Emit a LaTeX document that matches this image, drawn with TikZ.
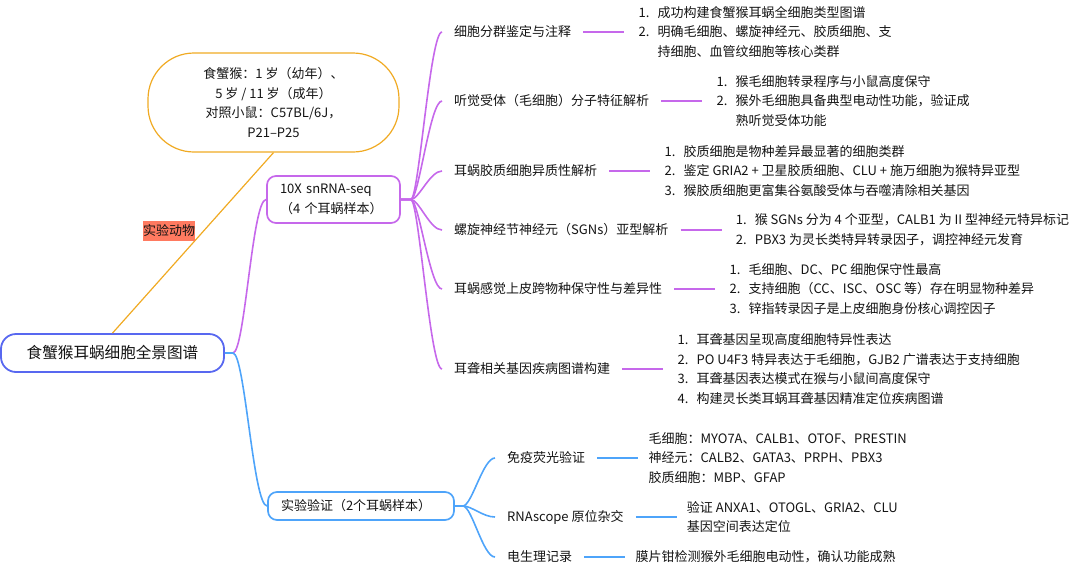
\documentclass[tikz,border=0pt]{standalone}
\usepackage{fontspec}
\usepackage{xcolor}
\setmainfont{Noto Sans CJK SC}
\definecolor{rootblue}{RGB}{88, 104, 240}
\definecolor{lineorange}{RGB}{240, 170, 35}
\definecolor{tagred}{RGB}{255, 122, 96}
\definecolor{mainpurple}{RGB}{198, 104, 235}
\definecolor{mainblue}{RGB}{78, 164, 250}
\definecolor{textblack}{RGB}{20, 20, 20}
\usetikzlibrary{positioning}
\newcommand{\itemno}[1]{\makebox[19pt][l]{#1.}}
\newcommand{\nextline}{\hspace*{19pt}}

\begin{document}
\begin{tikzpicture}[
    x=1pt, y=-1pt,
    every node/.style={text=textblack, font=\fontsize{13}{19.7}\selectfont},
    rootbox/.style={rectangle, draw=rootblue, line width=1.8pt, rounded corners=15pt, minimum width=223pt, minimum height=38pt, align=center, font=\fontsize{15.6}{19}\selectfont},
    bubble/.style={rectangle, draw=lineorange, line width=1.2pt, rounded corners=46pt, minimum width=251pt, minimum height=99pt, align=center},
    tag/.style={rectangle, fill=tagred, inner sep=0pt, minimum width=52pt, minimum height=20pt},
    branchbox/.style={rectangle, line width=1.7pt, rounded corners=9pt, inner xsep=13pt, inner ysep=0pt, align=left},
    topic/.style={anchor=west, inner xsep=12pt, inner ysep=1pt},
    detail/.style={anchor=west, inner xsep=14pt, inner ysep=0pt, align=left},
    purplelink/.style={draw=mainpurple, line width=1.6pt},
    bluelink/.style={draw=mainblue, line width=1.6pt}
]
    \useasboundingbox (0, 0) rectangle (1080, 568);

    \node[rootbox] (root) at (112.5, 353) {食蟹猴耳蜗细胞全景图谱};
    \node[bubble] (animal) at (273.5, 102.5) {食蟹猴：1 岁（幼年）、\\5 岁 / 11 岁（成年）\\对照小鼠：C57BL/6J，\\P21--P25};
    \draw[draw=lineorange, line width=1.2pt] (animal.south) -- (root.north);
    \node[tag] (animaltag) at (169, 231) {实验动物};

    \node[branchbox, draw=mainpurple, text width=107pt, minimum height=47pt] (snrna) at (333.5, 199.5) {10X snRNA-seq\\（4 个耳蜗样本）};
    \node[branchbox, draw=mainblue, text width=160pt, minimum height=28pt] (valid) at (361, 506) {实验验证（2个耳蜗样本）};

    \draw[purplelink] (root.east) -- ++(8, 0) .. controls +(12, 0) and +(-14, 0) .. (snrna.west);
    \draw[bluelink] (root.east) -- ++(8, 0) .. controls +(12, 0) and +(-14, 0) .. (valid.west);

    % 10X branch
    \node[topic] (cluster) at (442, 32) {细胞分群鉴定与注释};
    \node[topic] (hair) at (442, 101) {听觉受体（毛细胞）分子特征解析};
    \node[topic] (glia) at (442, 171) {耳蜗胶质细胞异质性解析};
    \node[topic] (sgn) at (442, 230) {螺旋神经节神经元（SGNs）亚型解析};
    \node[topic] (sensory) at (442, 289) {耳蜗感觉上皮跨物种保守性与差异性};
    \node[topic] (deaf) at (442, 369) {耳聋相关基因疾病图谱构建};

    \node[detail, right=41pt of cluster] (clusterd) {\itemno{1}成功构建食蟹猴耳蜗全细胞类型图谱\\\itemno{2}明确毛细胞、螺旋神经元、胶质细胞、支\\\nextline 持细胞、血管纹细胞等核心类群};
    \node[detail, right=41pt of hair] (haird) {\itemno{1}猴毛细胞转录程序与小鼠高度保守\\\itemno{2}猴外毛细胞具备典型电动性功能，验证成\\\nextline 熟听觉受体功能};
    \node[detail, right=41pt of glia] (gliad) {\itemno{1}胶质细胞是物种差异最显著的细胞类群\\\itemno{2}鉴定 GRIA2 + 卫星胶质细胞、CLU + 施万细胞为猴特异亚型\\\itemno{3}猴胶质细胞更富集谷氨酸受体与吞噬清除相关基因};
    \node[detail, right=41pt of sgn] (sgnd) {\itemno{1}猴 SGNs 分为 4 个亚型，CALB1 为 II 型神经元特异标记\\\itemno{2}PBX3 为灵长类特异转录因子，调控神经元发育};
    \node[detail, right=41pt of sensory] (sensoryd) {\itemno{1}毛细胞、DC、PC 细胞保守性最高\\\itemno{2}支持细胞（CC、ISC、OSC 等）存在明显物种差异\\\itemno{3}锌指转录因子是上皮细胞身份核心调控因子};
    \node[detail, right=41pt of deaf] (deafd) {\itemno{1}耳聋基因呈现高度细胞特异性表达\\\itemno{2}PO U4F3 特异表达于毛细胞，GJB2 广谱表达于支持细胞\\\itemno{3}耳聋基因表达模式在猴与小鼠间高度保守\\\itemno{4}构建灵长类耳蜗耳聋基因精准定位疾病图谱};

    \foreach \name in {cluster, hair, glia, sgn, sensory, deaf} {
        \draw[purplelink] (snrna.east) -- ++(10, 0) .. controls +(8, 0) and +(-12, 0) .. (\name.west);
        \draw[purplelink] (\name.east) -- (\name d.west);
    }

    % validation branch
    \node[topic] (immuno) at (495, 458) {免疫荧光验证};
    \node[topic] (rnascope) at (495, 517) {RNAscope 原位杂交};
    \node[topic] (patch) at (495, 557) {电生理记录};

    \node[detail, inner xsep=10pt, right=41pt of immuno] (immunod) {毛细胞：MYO7A、CALB1、OTOF、PRESTIN\\神经元：CALB2、GATA3、PRPH、PBX3\\胶质细胞：MBP、GFAP};
    \node[detail, inner xsep=10pt, right=41pt of rnascope] (rnascoped) {验证 ANXA1、OTOGL、GRIA2、CLU\\基因空间表达定位};
    \node[detail, inner xsep=10pt, right=41pt of patch] (patchd) {膜片钳检测猴外毛细胞电动性，确认功能成熟};

    \foreach \name in {immuno, rnascope, patch} {
        \draw[bluelink] (valid.east) -- ++(8, 0) .. controls +(9, 0) and +(-12, 0) .. (\name.west);
        \draw[bluelink] (\name.east) -- (\name d.west);
    }
\end{tikzpicture}
\end{document}
